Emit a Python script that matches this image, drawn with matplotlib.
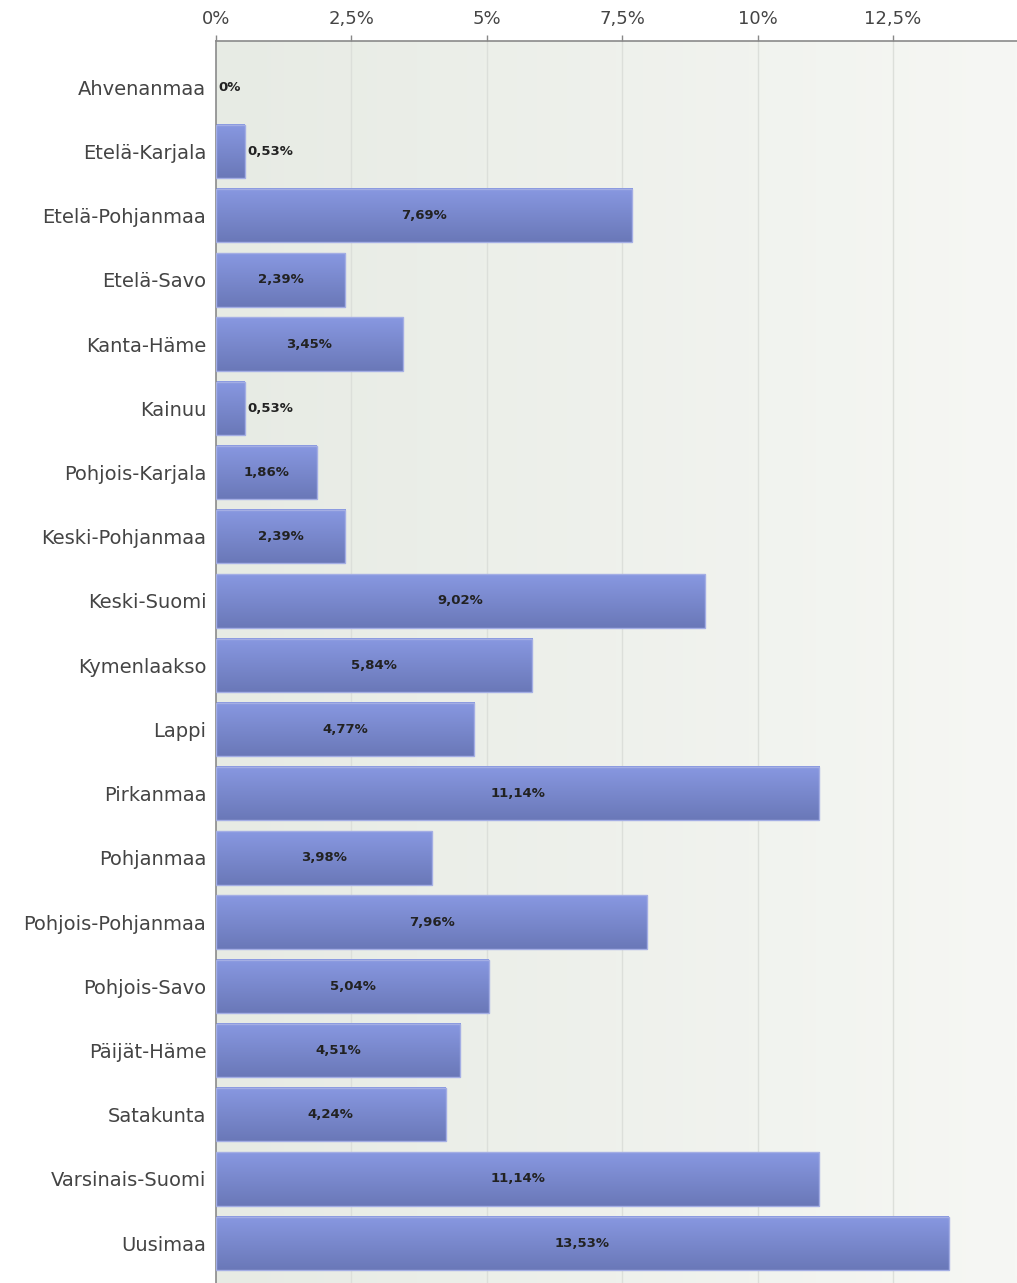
import numpy as np
import matplotlib
matplotlib.use("Agg")
import matplotlib.pyplot as plt
from matplotlib.colors import to_rgb

regions = ["Ahvenanmaa", "Etelä-Karjala", "Etelä-Pohjanmaa", "Etelä-Savo",
           "Kanta-Häme", "Kainuu", "Pohjois-Karjala", "Keski-Pohjanmaa",
           "Keski-Suomi", "Kymenlaakso", "Lappi", "Pirkanmaa", "Pohjanmaa",
           "Pohjois-Pohjanmaa", "Pohjois-Savo", "Päijät-Häme", "Satakunta",
           "Varsinais-Suomi", "Uusimaa"]
shares = [0, 0.53, 7.69, 2.39, 3.45, 0.53, 1.86, 2.39, 9.02, 5.84, 4.77,
          11.14, 3.98, 7.96, 5.04, 4.51, 4.24, 11.14, 13.53]
ticks = [0, 2.5, 5, 7.5, 10, 12.5]
tick_labels = ["0%", "2,5%", "5%", "7,5%", "10%", "12,5%"]

W, H, DPI = 1017, 1283, 100
fig = plt.figure(figsize=(W / DPI, H / DPI), dpi=DPI)
fig.patch.set_facecolor("white")
ax = fig.add_axes([216 / W, 0, 1 - 216 / W, (H - 41) / H])

# soft horizontal background gradient
bg_left = np.array(to_rgb("#e7ebe4"))
bg_right = np.array(to_rgb("#f6f7f4"))
t = np.linspace(0, 1, 256)[None, :, None]
bg = bg_left * (1 - t) + bg_right * t
ax.imshow(bg, extent=(0, 1, 0, 1), transform=ax.transAxes, aspect="auto",
          zorder=0, interpolation="bilinear")

for x in ticks[1:]:
    ax.axvline(x, color="#dcdfda", lw=1, zorder=1)

bar_h = 0.83
top_c = np.array(to_rgb("#8898e1"))
bot_c = np.array(to_rgb("#6a78b8"))
s = np.linspace(0, 1, 64)[:, None, None]
grad = top_c * (1 - s) + bot_c * s

y = np.arange(len(regions))
for yi, v in zip(y, shares):
    if v <= 0:
        continue
    ax.imshow(grad, extent=(0, v, yi + bar_h / 2, yi - bar_h / 2),
              origin="upper", aspect="auto", interpolation="bilinear", zorder=2)
    ax.barh(yi, v, height=bar_h, left=0, facecolor="none",
            edgecolor="#a4aee4", linewidth=1, zorder=3)

for yi, v in zip(y, shares):
    label = (f"{v:.2f}".replace(".", ",") if v > 0 else "0") + "%"
    if v >= 1.5:
        ax.text(v / 2, yi, label, ha="center", va="center", fontsize=9.5,
                fontweight="bold", color="#222222", zorder=4)
    else:
        ax.text(v + 0.05, yi, label, ha="left", va="center", fontsize=9.5,
                fontweight="bold", color="#222222", zorder=4)

ax.set_xlim(0, (W - 216) / 54.16)
ax.set_ylim(18.62, -0.72)
ax.set_yticks(y)
ax.set_yticklabels(regions, fontsize=14, color="#444444")
ax.tick_params(axis="y", length=0, pad=7)
ax.xaxis.tick_top()
ax.set_xticks(ticks)
ax.set_xticklabels(tick_labels, fontsize=13, color="#444444")
ax.tick_params(axis="x", length=4, width=1, color="#888888", pad=5)

for side in ["right", "bottom"]:
    ax.spines[side].set_visible(False)
for side in ["left", "top"]:
    ax.spines[side].set_color("#8a8a8a")
    ax.spines[side].set_linewidth(1.2)

fig.savefig("out.png", dpi=DPI, facecolor="white")
